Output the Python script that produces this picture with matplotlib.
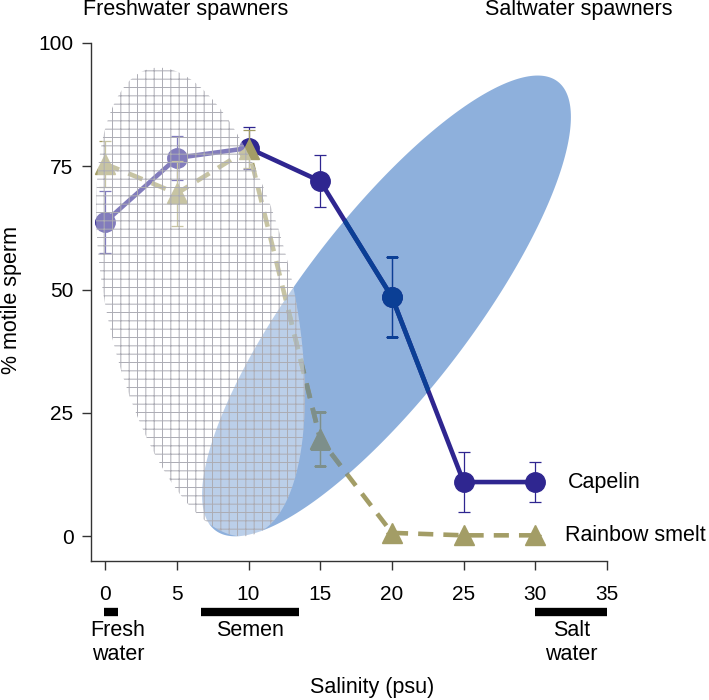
import matplotlib

matplotlib.use("Agg")

import matplotlib.pyplot as plt
import numpy as np
from matplotlib.patches import Polygon

plt.rcParams["font.family"] = ["Liberation Sans", "DejaVu Sans"]
plt.rcParams["hatch.linewidth"] = 0.7

# data
salinity = [0, 5, 10, 15, 20, 25, 30]
capelin = [63.7, 76.7, 78.7, 72.0, 48.5, 11.0, 11.0]
capelin_err = [6.3, 4.4, 4.2, 5.3, 8.2, 6.0, 4.0]
smelt = [75.5, 69.5, 78.5, 19.7, 0.7, 0.2, 0.2]
smelt_err = [4.7, 6.5, 3.8, 5.5, 0.0, 0.0, 0.0]

# ranges shown as bars under the x axis
range_names = ["Fresh\nwater", "Semen", "Salt\nwater"]
range_lo = [-0.1, 6.7, 30.0]
range_hi = [0.9, 13.5, 35.0]

# ellipses: centre, half width, half height, x-y correlation
fresh_ell = (6.65, 47.5, 7.28, 47.5, -0.40)
salt_ell = (19.62, 46.7, 12.86, 46.7, 0.82)

COLORS = {
    "capelin": "#2f2690",
    "capelin_in_blue": "#0b3f95",
    "smelt": "#a39d66",
    "smelt_in_blue": "#7d8f8b",
    "blue": "#8eb0dc",
    "axis": "#333333",
}


def ellipse_xy(cx, cy, w, h, r):
    t = np.linspace(0, 2 * np.pi, 300)
    x = cx + w * np.cos(t)
    y = cy + h * (r * np.cos(t) + np.sqrt(1 - r * r) * np.sin(t))
    return np.column_stack([x, y])


def draw_series(ax, cap_color, smelt_color, zorder, clip=None):
    artists = []
    eb = ax.errorbar(salinity, capelin, yerr=capelin_err, color=cap_color, lw=3.3, marker="o",
                     ms=14, capsize=4, elinewidth=0.9, capthick=0.9, zorder=zorder, clip_on=False)
    artists += [eb.lines[0], *eb.lines[1], *eb.lines[2]]
    eb2 = ax.errorbar(salinity, smelt, yerr=smelt_err, color=smelt_color, lw=3.3, marker="^",
                      ms=14, capsize=4, elinewidth=0.9, capthick=0.9, zorder=zorder + 1,
                      clip_on=False)
    artists += [eb2.lines[0], *eb2.lines[1], *eb2.lines[2]]
    eb2.lines[0].set_dashes((3.3, 2.2))
    if clip is not None:
        for a in artists:
            a.set_clip_on(True)
            a.set_clip_path(clip)


fig = plt.figure(figsize=(7.09, 7.0), dpi=100)
ax = fig.add_axes([0.128, 0.1986, 0.7282, 0.74])

blue = Polygon(ellipse_xy(*salt_ell), closed=True, facecolor=COLORS["blue"], edgecolor="none", zorder=1)
ax.add_patch(blue)

draw_series(ax, COLORS["capelin"], COLORS["smelt"], 3)
draw_series(ax, COLORS["capelin_in_blue"], COLORS["smelt_in_blue"], 5, clip=blue)

hatched = Polygon(ellipse_xy(*fresh_ell), closed=True, facecolor=(1, 1, 1, 0.4),
                  edgecolor="#acacb4", linewidth=0, hatch="++", zorder=8)
ax.add_patch(hatched)

ax.set_xlim(-1, 35)
ax.set_ylim(-5, 100)
ax.set_xticks(range(0, 36, 5))
ax.set_yticks([0, 25, 50, 75, 100])
for side in ["top", "right"]:
    ax.spines[side].set_visible(False)
for side in ["left", "bottom"]:
    ax.spines[side].set_color(COLORS["axis"])
    ax.spines[side].set_linewidth(1)
ax.tick_params(direction="out", length=6.5, width=1, color=COLORS["axis"], labelsize=15)
ax.tick_params(axis="y", pad=6)
ax.tick_params(axis="x", pad=10.5)

for name, lo, hi in zip(range_names, range_lo, range_hi):
    ax.plot([lo, hi], [-15.3, -15.3], color="black", lw=6, solid_capstyle="butt", clip_on=False)
    ax.text((lo + hi) / 2 + (0.5 if lo < 0 else 0), -17.0, name, ha="center", va="top",
            fontsize=15.5, linespacing=1.2)

ax.text(18.6, -30.7, "Salinity (psu)", ha="center", va="center", fontsize=15.5)
ax.text(-6.5, 48, "% motile sperm", ha="center", va="center", rotation=90, fontsize=15.5)

ax.text(-1.55, 106.7, "Freshwater spawners", ha="left", va="center", fontsize=15.5, clip_on=False)
ax.text(26.5, 106.7, "Saltwater spawners", ha="left", va="center", fontsize=15.5, clip_on=False)
ax.text(32.25, 11, "Capelin", ha="left", va="center", fontsize=15.5, clip_on=False)
ax.text(32.1, 0.2, "Rainbow smelt", ha="left", va="center", fontsize=15.5, clip_on=False)

fig.savefig("out.png", dpi=100, facecolor="white")
